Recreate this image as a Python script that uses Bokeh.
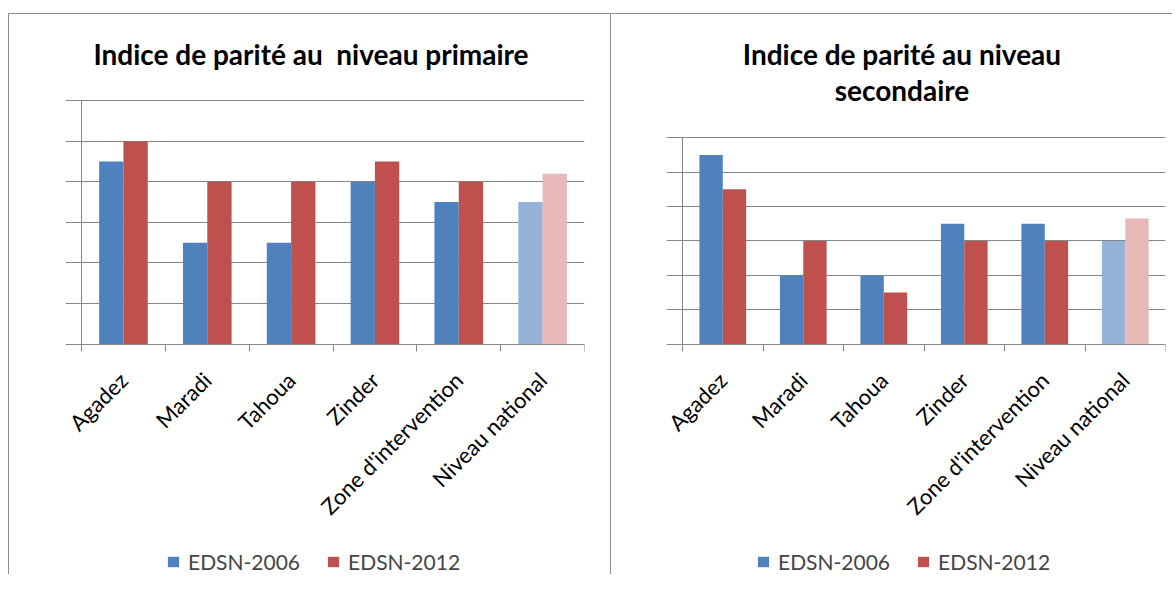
from bokeh.plotting import figure
from bokeh.layouts import row, column
from bokeh.models import (ColumnDataSource, FixedTicker, Legend, LegendItem, Range1d,
                          NumeralTickFormatter, Spacer, LabelSet, Label, Span)
from bokeh.core.properties import value
from bokeh.transform import dodge
from bokeh.embed import file_html
from bokeh.resources import INLINE

categories = ["Agadez", "Maradi", "Tahoua", "Zinder", "Zone d'intervention", "Niveau national"]
series_names = ["EDSN-2006", "EDSN-2012"]
primaire_2006 = [0.9, 0.5, 0.5, 0.8, 0.7, 0.70]
primaire_2012 = [1.0, 0.8, 0.8, 0.9, 0.8, 0.84]
secondaire_2006 = [1.1, 0.4, 0.4, 0.7, 0.7, 0.60]
secondaire_2012 = [0.9, 0.6, 0.3, 0.6, 0.6, 0.73]
y_ticks = [0.0, 0.2, 0.4, 0.6, 0.8, 1.0, 1.2]
titles = [["Indice de parité au \u00a0niveau primaire"], ["Indice de parité au niveau", "secondaire"]]

BLUE, RED = "#4F81BD", "#C0504D"
LBLUE, LRED = "#95B3D7", "#E6B9B8"
GRID = "#868686"
FONT = "Lato"
BORDER = "1px solid #8c8c8c"

FRAME_H = 560          # frame covers the whole chart box, from its top to its bottom
EXT = 16               # extra frame room left of the y axis, for the first rotated label
Y_MAX = y_ticks[-1]


def make_chart(title_lines, v06, v12, plot_w, bl, br, px_top, px_zero, title_cx, title_cy,
               legend_x):
    """bl: pixels from chart left to the y axis; px_top / px_zero: rows of 1.2 and 0."""
    n = len(categories)
    px_per_unit = (px_zero - px_top) / Y_MAX
    y_start = -(FRAME_H - px_zero) / px_per_unit
    y_end = Y_MAX + px_top / px_per_unit
    px_per_cat = plot_w / n

    xs = [i + 0.5 for i in range(n)]
    c06 = [BLUE] * (n - 1) + [LBLUE]
    c12 = [RED] * (n - 1) + [LRED]
    src = ColumnDataSource(dict(x=xs, v06=v06, v12=v12, c06=c06, c12=c12, cat=categories,
                                ly=[-32 / px_per_unit] * n))
    p = figure(frame_width=plot_w + EXT, frame_height=FRAME_H, output_backend="svg",
               toolbar_location=None, title=None,
               x_range=Range1d(-EXT / px_per_cat, n), y_range=Range1d(y_start, y_end),
               min_border_left=bl - EXT, min_border_right=br, min_border_top=0,
               min_border_bottom=0)
    try:
        p.frame_align = False
    except Exception:
        pass
    p.outline_line_color = None
    p.styles = {"border-top": BORDER, "border-left": BORDER}

    r1 = p.vbar(x=dodge("x", -0.145, range=p.x_range), top="v06", width=0.29, source=src,
                fill_color="c06", line_color=None)
    r2 = p.vbar(x=dodge("x", 0.145, range=p.x_range), top="v12", width=0.29, source=src,
                fill_color="c12", line_color=None)

    # x axis drawn at y = 0, ticks at category boundaries, names as rotated labels
    xa = p.xaxis[0]
    xa.ticker = FixedTicker(ticks=xs, minor_ticks=list(range(n + 1)))
    xa.bounds = (0, n)
    xa.major_label_overrides = {x: "" for x in xs}
    xa.major_label_text_font_size = "1px"
    xa.major_label_standoff = 0
    xa.major_tick_out = 0
    xa.major_tick_in = 0
    xa.minor_tick_out = 7
    xa.minor_tick_in = 0
    xa.minor_tick_line_color = GRID
    xa.axis_line_color = GRID
    try:
        xa.fixed_location = 0
    except Exception:
        xa.visible = False
        p.add_layout(Span(location=0, dimension="width", line_color=GRID, line_width=1))

    ya = p.yaxis[0]
    ya.ticker = FixedTicker(ticks=y_ticks)
    ya.bounds = (0, Y_MAX)
    ya.formatter = NumeralTickFormatter(format="0.0")
    ya.minor_tick_line_color = None
    ya.major_tick_out = 7
    ya.major_tick_in = 0
    ya.major_tick_line_color = GRID
    ya.axis_line_color = GRID
    ya.major_label_text_font = FONT
    ya.major_label_text_font_size = "19px"
    ya.major_label_text_color = "black"
    ya.major_label_standoff = 19
    try:
        ya.fixed_location = 0
    except Exception:
        p.x_range.start = 0

    p.xgrid.grid_line_color = None
    p.ygrid.grid_line_color = GRID

    p.add_layout(LabelSet(x="x", y="ly", text="cat", source=src, angle=0.7854,
                          text_align="right", text_baseline="middle",
                          text_font=value(FONT), text_font_size="22px", text_color="black"))

    tx = (title_cx - bl) / px_per_cat
    for line, cy in zip(title_lines, title_cy):
        p.add_layout(Label(x=tx, y=(px_zero - cy) / px_per_unit, text=line,
                           text_align="center", text_baseline="middle", text_font=FONT,
                           text_font_size="28px", text_font_style="bold", text_color="black"))

    legend = Legend(items=[LegendItem(label=series_names[0], renderers=[r1], index=0),
                           LegendItem(label=series_names[1], renderers=[r2], index=0)],
                    orientation="horizontal", location=(legend_x + EXT, 1),
                    label_text_font=FONT, label_text_font_size="21px",
                    glyph_width=14, glyph_height=13, label_standoff=8, spacing=26,
                    border_line_color=None, background_fill_alpha=0, padding=0, margin=0)
    p.add_layout(legend)
    return p


# chart box tops at page row 13; 1.2 / 0 rows: 99 / 342 (left), 136 / 342 (right)
p1 = make_chart(titles[0], primaire_2006, primaire_2012, 502, 72, 27, 86, 329,
                301, [39], 85)
p2 = make_chart(titles[1], secondaire_2006, secondaire_2012, 482, 71, 8, 123, 329,
                290, [39, 75], 74)

layout = column(Spacer(height=13), row(Spacer(width=8), p1, p2))
open("out.html", "w").write(file_html(layout, INLINE))
